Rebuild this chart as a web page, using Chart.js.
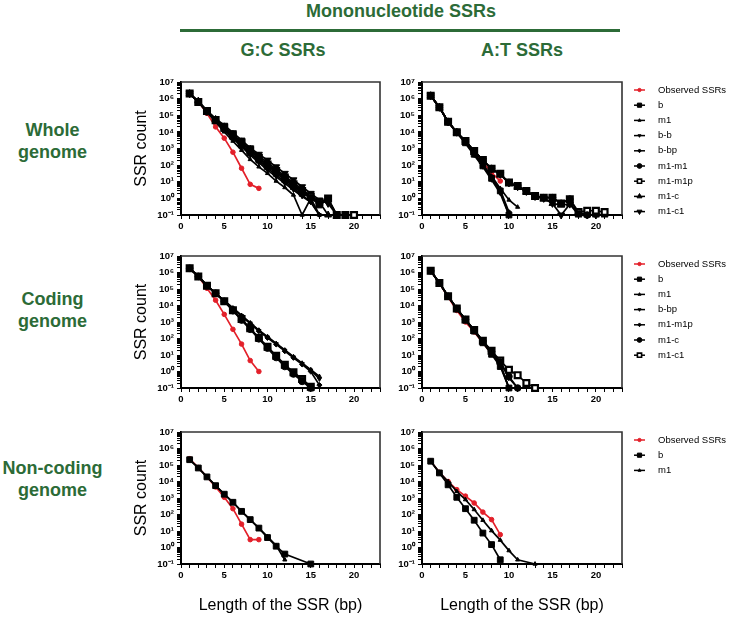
<!DOCTYPE html>
<html>
<head>
<meta charset="utf-8">
<script src="https://cdn.jsdelivr.net/npm/chart.js@4"></script>
<style>
  html, body { margin: 0; padding: 0; background: #fff; }
  body { width: 738px; height: 617px; overflow: hidden; position: relative; font-family: "Liberation Sans", Arial, sans-serif; }
  .hd { position: absolute; color: #2c6b37; font-weight: bold; font-size: 18px; text-align: center; line-height: 20px; white-space: nowrap; }
  .row { position: absolute; left: 0; width: 105px; color: #2c6b37; font-weight: bold; font-size: 18px; line-height: 22px; text-align: center; }
  .rule { position: absolute; left: 180px; top: 29px; width: 440px; height: 3px; background: #2c6b37; }
  canvas { position: absolute; }
</style>
</head>
<body>
<div class="hd" style="left:180px;width:442px;top:1px">Mononucleotide SSRs</div>
<div class="rule"></div>
<div class="hd" style="left:183px;width:200px;top:40px">G:C SSRs</div>
<div class="hd" style="left:422px;width:200px;top:40px">A:T SSRs</div>
<div class="row" style="top:119px">Whole<br>genome</div>
<div class="row" style="top:288px">Coding<br>genome</div>
<div class="row" style="top:457px">Non-coding<br>genome</div>

<canvas id="gcWhole" width="260" height="165" style="left:130px;top:72px"></canvas>
<canvas id="atWhole" width="348" height="165" style="left:390px;top:72px"></canvas>
<canvas id="gcCoding" width="260" height="164" style="left:130px;top:246px"></canvas>
<canvas id="atCoding" width="348" height="164" style="left:390px;top:246px"></canvas>
<canvas id="gcNon" width="260" height="195" style="left:130px;top:422px"></canvas>
<canvas id="atNon" width="348" height="195" style="left:390px;top:422px"></canvas>

<script>
//---------data (x = length of the SSR, starting at 1 bp)

const xMajorTicks = [0, 5, 10, 15, 20];
const yDecades = [-1, 0, 1, 2, 3, 4, 5, 6, 7];

const namesWhole = ['Observed SSRs', 'b', 'm1', 'b-b', 'b-bp', 'm1-m1', 'm1-m1p', 'm1-c', 'm1-c1'];
const namesCoding = ['Observed SSRs', 'b', 'm1', 'b-bp', 'm1-m1p', 'm1-c', 'm1-c1'];
const namesNon = ['Observed SSRs', 'b', 'm1'];

// G:C, whole genome
const gcWholeObs = [2.0e6, 6.5e5, 1.3e5, 2.0e4, 4.2e3, 600, 65, 7, 4];
const gcWholeB = [2.0e6, 6.3e5, 1.8e5, 5.0e4, 1.6e4, 5.0e3, 1.6e3, 560, 200, 79, 32, 13, 5, 2, 1.1, 0.4, 0.9, 0.1];
const gcWholeM1 = [2.0e6, 6.3e5, 1.6e5, 4.0e4, 1.0e4, 2.8e3, 790, 220, 79, 32, 11, 4.5, 1.6, 0.1, 1, 0.1];
const gcWholeBB = [2.0e6, 6.3e5, 1.6e5, 4.5e4, 1.3e4, 4.0e3, 1.3e3, 400, 140, 50, 20, 8, 3.2, 1.3, 0.6, 0.1];
const gcWholeBBp = [2.0e6, 6.3e5, 1.6e5, 4.5e4, 1.4e4, 4.5e3, 1.4e3, 500, 180, 63, 25, 10, 4, 1.6, 0.6, 0.1];
const gcWholeM1M1 = [2.0e6, 6.3e5, 1.6e5, 5.0e4, 1.6e4, 5.6e3, 2.0e3, 710, 250, 100, 40, 16, 6.3, 2.5, 1.0, 0.5, 0.8, 0.1, 0.1];
const gcWholeM1M1p = [2.0e6, 6.3e5, 1.8e5, 5.0e4, 1.8e4, 6.3e3, 2.2e3, 790, 280, 110, 45, 18, 7.1, 2.8, 1.3, 0.6, 1.0, 0.1, 0.1, 0.1];
const gcWholeM1C = [2.0e6, 7.1e5, 1.8e5, 5.6e4, 2.0e4, 7.1e3, 2.5e3, 890, 350, 140, 56, 22, 8.9, 3.5, 1.4, 0.6, 0.1];
const gcWholeM1C1 = [2.0e6, 7.1e5, 2.0e5, 6.3e4, 2.5e4, 8.9e3, 3.2e3, 1.1e3, 450, 200, 79, 32, 13, 5, 2, 0.8, 0.5, 0.1];

// A:T, whole genome
const atWholeObs = [1.5e6, 3.0e5, 4.0e4, 9.0e3, 2.5e3, 600, 150, 35, 11];
const atWholeB = [1.5e6, 3.0e5, 4.0e4, 9.5e3, 2.2e3, 450, 90, 16, 2.8, 0.1];
const atWholeM1 = [1.5e6, 3.0e5, 4.0e4, 9.5e3, 2.5e3, 560, 110, 22, 4, 0.8, 0.3];
const atWholeBB = [1.5e6, 3.0e5, 4.0e4, 8.9e3, 2.0e3, 400, 79, 13, 2, 0.1];
const atWholeBBp = [1.5e6, 3.0e5, 4.0e4, 9.5e3, 2.4e3, 500, 100, 18, 3.2, 0.15];
const atWholeM1M1 = [1.5e6, 3.0e5, 4.0e4, 9.5e3, 2.8e3, 700, 200, 60, 30, 9, 5.5, 2.8, 1.4, 1.1, 1.1, 0.5, 0.9, 0.12, 0.1];
const atWholeM1M1p = [1.5e6, 3.0e5, 4.0e4, 9.5e3, 2.8e3, 700, 200, 60, 30, 9, 5.5, 2.8, 1.4, 1.1, 1.1, 0.5, 0.9, 0.15, 0.18, 0.18, 0.15];
const atWholeM1C = [1.5e6, 3.0e5, 4.0e4, 9.5e3, 2.8e3, 700, 200, 60, 28, 8.5, 5, 2.6, 1.3, 1.0, 0.5, 0.4, 0.45, 0.1, 0.1, 0.1, 0.1];
const atWholeM1C1 = [1.5e6, 3.0e5, 4.0e4, 9.5e3, 2.8e3, 700, 200, 60, 28, 8.5, 5, 2.6, 1.3, 1.0, 0.5, 0.1, 0.45, 0.15, 0.1, 0.1];

// G:C, coding genome
const gcCodingObs = [1.8e6, 5.8e5, 1.1e5, 2.1e4, 2.9e3, 360, 46, 4.6, 1.0];
const gcCodingB = [1.8e6, 5.8e5, 1.6e5, 5.5e4, 1.8e4, 5.0e3, 1.4e3, 400, 100, 29, 8, 2.3, 0.8, 0.3, 0.1];
const gcCodingM1 = [1.8e6, 5.8e5, 1.6e5, 5.5e4, 2.0e4, 7.1e3, 2.5e3, 890, 320, 130, 50, 20, 7.9, 3.2, 1.3, 0.5];
const gcCodingBBp = [1.8e6, 5.8e5, 1.6e5, 5.5e4, 1.9e4, 6.8e3, 2.4e3, 850, 300, 120, 47, 19, 7.4, 3.0, 1.2, 0.35];
const gcCodingM1M1p = [1.8e6, 5.8e5, 1.6e5, 5.5e4, 1.9e4, 6.5e3, 2.3e3, 800, 280, 110, 44, 17, 6.8, 2.7, 1.0, 0.15];
const gcCodingM1C = [1.8e6, 5.8e5, 1.6e5, 5.5e4, 1.8e4, 4.8e3, 1.3e3, 360, 95, 26, 7, 2.0, 0.7, 0.25, 0.1];
const gcCodingM1C1 = [1.8e6, 5.8e5, 1.6e5, 5.5e4, 1.8e4, 5.2e3, 1.5e3, 420, 110, 32, 9, 2.6, 0.9, 0.35, 0.12];

// A:T, coding genome
const atCodingObs = [1.26e6, 2.2e5, 3.2e4, 5.0e3, 1.0e3, 250, 55, 12, 2.5];
const atCodingB = [1.26e6, 2.3e5, 3.6e4, 6.3e3, 1.3e3, 280, 55, 11, 2, 0.1];
const atCodingM1 = [1.26e6, 2.3e5, 3.6e4, 6.4e3, 1.3e3, 300, 62, 13, 2.6, 0.1];
const atCodingBBp = [1.26e6, 2.3e5, 3.6e4, 6.5e3, 1.35e3, 310, 65, 14, 3, 0.1];
const atCodingM1M1p = [1.26e6, 2.3e5, 3.6e4, 6.5e3, 1.4e3, 320, 68, 15, 3.5, 0.4, 0.1];
const atCodingM1C = [1.26e6, 2.3e5, 3.6e4, 6.6e3, 1.4e3, 330, 70, 16, 3.8, 0.5, 0.1];
const atCodingM1C1 = [1.26e6, 2.3e5, 3.6e4, 6.6e3, 1.4e3, 330, 72, 18, 4.6, 1.26, 0.6, 0.2, 0.1];

// G:C, non-coding genome (null = no point at that length)
const gcNonObs = [2.4e5, 7.0e4, 1.9e4, 4.7e3, 1.1e3, 225, 26, 3, 3];
const gcNonB = [2.1e5, 6.6e4, 1.9e4, 5.6e3, 1.7e3, 550, 155, 49, 15, 4.0, 1.2, 0.4, null, null, 0.1];
const gcNonM1 = [2.1e5, 6.6e4, 1.9e4, 5.6e3, 1.7e3, 550, 155, 49, 15, 4.5, 1.3, 0.18];

// A:T, non-coding genome
const atNonObs = [1.7e5, 3.6e4, 1.0e4, 3.2e3, 1.3e3, 500, 140, 49, 6];
const atNonB = [1.7e5, 3.3e4, 6.3e3, 1.1e3, 225, 45, 7.5, 1.5, 0.18];
const atNonM1 = [1.7e5, 3.6e4, 1.0e4, 2.5e3, 800, 200, 45, 10.5, 2.8, 0.65, 0.18, null, 0.1];

//---------styles

const RED = '#e3202a';
// marker cycle for the model series, in legend order
const markers = [
  { style: 'rect', r: 4.1 },
  { style: 'triangle', r: 2.4 },
  { style: 'triangle', r: 2.4, rot: 180 },
  { style: 'rectRot', r: 2.6 },
  { style: 'circle', r: 3.3 },
  { style: 'rect', r: 4.1, open: true },
  { style: 'triangle', r: 4.0 },
  { style: 'triangle', r: 4.0, rot: 180 }
];
const supers = { '-': '\u207B', '0': '\u2070', '1': '\u00B9', '2': '\u00B2', '3': '\u00B3', '4': '\u2074', '5': '\u2075', '6': '\u2076', '7': '\u2077' };

Chart.defaults.font.family = '"Liberation Sans", Arial, sans-serif';
Chart.defaults.color = '#000';

function toPoints(arr) {
  const pts = [];
  arr.forEach(function (v, i) {
    if (v !== null) pts.push({ x: i + 1, y: v });
  });
  return pts;
}

function buildDatasets(names, series) {
  return series.map(function (arr, i) {
    if (i === 0) {
      return {
        label: names[0], data: toPoints(arr), order: 1, clip: false,
        borderColor: RED, borderWidth: 1.7, pointStyle: 'circle', pointRadius: 2.3,
        pointBackgroundColor: RED, pointBorderColor: RED, pointBorderWidth: 1
      };
    }
    const m = markers[i - 1];
    return {
      label: names[i], data: toPoints(arr), order: 0, clip: false,
      borderColor: '#000', borderWidth: 1.7, pointStyle: m.style, pointRotation: m.rot || 0,
      pointRadius: m.r, pointBackgroundColor: m.open ? '#fff' : '#000',
      pointBorderColor: '#000', pointBorderWidth: m.open ? 2.2 : 1
    };
  });
}

// top and right edges of the plot box
const framePlugin = {
  id: 'frame',
  afterDatasetsDraw(chart) {
    const a = chart.chartArea, ctx = chart.ctx;
    ctx.save();
    ctx.strokeStyle = '#333';
    ctx.lineWidth = 1.6;
    ctx.beginPath();
    ctx.moveTo(a.left, a.top);
    ctx.lineTo(a.right, a.top);
    ctx.lineTo(a.right, a.bottom);
    ctx.stroke();
    ctx.restore();
  }
};

// legend on the right of the A:T panels: line + marker + name
const sideLegend = {
  id: 'sideLegend',
  afterDraw(chart, args, opts) {
    if (!opts.show) return;
    const ctx = chart.ctx;
    const x0 = chart.chartArea.right + 12;
    let y = chart.chartArea.top + 8;
    const drawPoint = Chart.helpers && Chart.helpers.drawPoint;
    ctx.save();
    chart.data.datasets.forEach(function (ds) {
      ctx.strokeStyle = ds.borderColor;
      ctx.lineWidth = 1.5;
      ctx.beginPath();
      ctx.moveTo(x0, y);
      ctx.lineTo(x0 + 11, y);
      ctx.stroke();
      ctx.fillStyle = ds.pointBackgroundColor;
      ctx.strokeStyle = ds.pointBorderColor;
      ctx.lineWidth = Math.min(ds.pointBorderWidth, 1.6);
      if (drawPoint) {
        drawPoint(ctx, { pointStyle: ds.pointStyle, rotation: ds.pointRotation, radius: ds.pointRadius * 0.72, borderWidth: ctx.lineWidth }, x0 + 5.5, y);
      }
      ctx.fillStyle = '#000';
      ctx.font = '9.5px "Liberation Sans", Arial, sans-serif';
      ctx.textBaseline = 'middle';
      ctx.textAlign = 'left';
      ctx.fillText(ds.label, x0 + 24, y);
      y += 15.2;
    });
    ctx.restore();
  }
};

function makePanel(id, names, series, col, bottomRow) {
  const yAxisW = col === 0 ? 51 : 32;
  const xAxisH = bottomRow ? 53 : 22;
  return new Chart(document.getElementById(id), {
    type: 'line',
    data: { datasets: buildDatasets(names, series) },
    plugins: [framePlugin, sideLegend],
    options: {
      responsive: false,
      animation: false,
      devicePixelRatio: 1,
      layout: { padding: { top: 10, right: col === 0 ? 10 : 116, bottom: 0, left: 0 } },
      plugins: {
        legend: { display: false },
        tooltip: { enabled: false },
        sideLegend: { show: col === 1 }
      },
      scales: {
        x: {
          type: 'linear', min: 0, max: 23,
          afterBuildTicks: function (s) {
            const t = [];
            for (let v = 0; v <= 23; v++) t.push({ value: v });
            s.ticks = t;
          },
          ticks: {
            autoSkip: false, maxRotation: 0, padding: 2,
            font: { size: 9.5, weight: 'bold' },
            callback: function (v) { return xMajorTicks.includes(v) ? String(v) : ''; }
          },
          grid: { drawOnChartArea: false, drawTicks: true, tickLength: 4, color: '#000' },
          border: { color: '#000', width: 2 },
          title: {
            display: bottomRow, text: 'Length of the SSR (bp)',
            font: { size: 16 }, color: '#000', padding: { top: 0, bottom: 2 }
          },
          afterFit: function (s) { s.height = xAxisH; }
        },
        y: {
          type: 'logarithmic', min: 0.1, max: 1e7,
          afterBuildTicks: function (s) {
            const t = [];
            yDecades.forEach(function (d) {
              for (let k = 1; k <= 9; k++) {
                const v = k * Math.pow(10, d);
                if (v <= 1e7 * 1.0001) t.push({ value: v });
              }
            });
            s.ticks = t;
          },
          ticks: {
            autoSkip: false, padding: 3,
            font: { size: 9.5, weight: 'bold' },
            callback: function (v) {
              const l = Math.log10(v);
              if (Math.abs(l - Math.round(l)) > 1e-6) return '';
              const e = String(Math.round(l)).split('').map(function (c) { return supers[c]; }).join('');
              return '10' + e;
            }
          },
          grid: { drawOnChartArea: false, drawTicks: true, tickLength: 4, color: '#000' },
          border: { color: '#000', width: 2 },
          title: {
            display: col === 0, text: 'SSR count',
            font: { size: 16 }, color: '#000', padding: { top: 2, bottom: 0 }
          },
          afterFit: function (s) { s.width = yAxisW; }
        }
      }
    }
  });
}

document.addEventListener('DOMContentLoaded', function () {
  makePanel('gcWhole', namesWhole,
    [gcWholeObs, gcWholeB, gcWholeM1, gcWholeBB, gcWholeBBp, gcWholeM1M1, gcWholeM1M1p, gcWholeM1C, gcWholeM1C1], 0, false);
  makePanel('atWhole', namesWhole,
    [atWholeObs, atWholeB, atWholeM1, atWholeBB, atWholeBBp, atWholeM1M1, atWholeM1M1p, atWholeM1C, atWholeM1C1], 1, false);
  makePanel('gcCoding', namesCoding,
    [gcCodingObs, gcCodingB, gcCodingM1, gcCodingBBp, gcCodingM1M1p, gcCodingM1C, gcCodingM1C1], 0, false);
  makePanel('atCoding', namesCoding,
    [atCodingObs, atCodingB, atCodingM1, atCodingBBp, atCodingM1M1p, atCodingM1C, atCodingM1C1], 1, false);
  makePanel('gcNon', namesNon, [gcNonObs, gcNonB, gcNonM1], 0, true);
  makePanel('atNon', namesNon, [atNonObs, atNonB, atNonM1], 1, true);
});
</script>
</body>
</html>
